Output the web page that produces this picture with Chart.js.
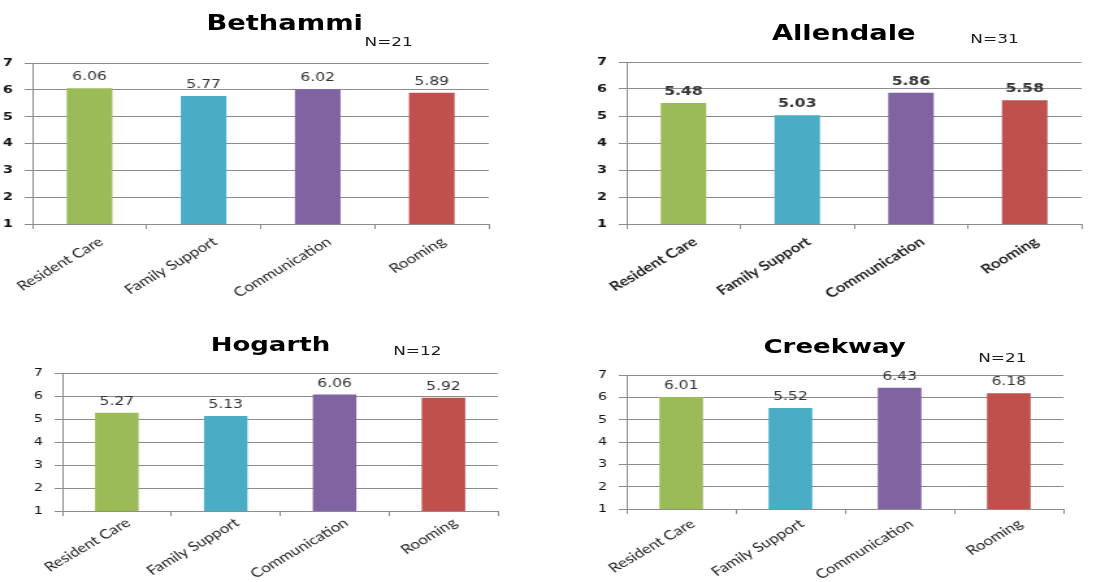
<!DOCTYPE html>
<html>
<head>
<meta charset="utf-8">
<script src="https://cdn.jsdelivr.net/npm/chart.js@4/dist/chart.umd.min.js"></script>
<style>
  html, body { margin: 0; padding: 0; background: #fff; overflow: hidden; }
  #page { position: relative; width: 848px; height: 582px; transform: scaleX(1.3); transform-origin: 0 0; }
  canvas { position: absolute; }
  .title { position: absolute; font: bold 21px "DejaVu Sans", sans-serif; line-height: 21px; white-space: nowrap; transform: translateX(-50%); color: #000; }
  .count { position: absolute; font: 13px "DejaVu Sans", sans-serif; line-height: 13px; white-space: nowrap; transform: translateX(-50%); color: #1a1a1a; }
  #c1 { left: 0px;   top: 43px;  }
  #c2 { left: 457px; top: 42px;  }
  #c3 { left: 23px;  top: 353px; }
  #c4 { left: 457px; top: 355px; }
  #t1 { left: 219px; top: 13px; }
  #t2 { left: 649px; top: 23px; }
  #t3 { left: 208px; top: 334px; font-size: 20px; }
  #t4 { left: 642px; top: 336px; font-size: 20px; }
  #n1 { left: 299px; top: 35px; }
  #n2 { left: 765px; top: 32px; }
  #n3 { left: 321px; top: 344px; }
  #n4 { left: 771px; top: 351px; }
</style>
</head>
<body>
<div id="page">
  <div class="title" id="t1"></div><div class="count" id="n1"></div>
  <div class="title" id="t2"></div><div class="count" id="n2"></div>
  <div class="title" id="t3"></div><div class="count" id="n3"></div>
  <div class="title" id="t4"></div><div class="count" id="n4"></div>
  <canvas id="c1" width="386" height="261"></canvas>
  <canvas id="c2" width="385" height="262"></canvas>
  <canvas id="c3" width="370" height="238"></canvas>
  <canvas id="c4" width="371" height="234"></canvas>
</div>
<script>
// Satisfaction domains and mean scores per home
const categories = ['Resident Care', 'Family Support', 'Communication', 'Rooming'];
const siteNames = ['Bethammi', 'Allendale', 'Hogarth', 'Creekway'];
const siteCounts = [21, 31, 12, 21];
const bethammiScores = [6.06, 5.77, 6.02, 5.89];
const allendaleScores = [5.48, 5.03, 5.86, 5.58];
const hogarthScores = [5.27, 5.13, 6.06, 5.92];
const creekwayScores = [6.01, 5.52, 6.43, 6.18];
const yMin = 1, yMax = 7, yStep = 1;
const barColors = ['#9bbb59', '#4bacc6', '#8064a2', '#c0504d'];

// Score printed above each bar
const valueLabels = {
  id: 'valueLabels',
  afterDatasetsDraw(chart, args, opts) {
    const ctx = chart.ctx;
    const meta = chart.getDatasetMeta(0);
    const data = chart.data.datasets[0].data;
    ctx.save();
    ctx.font = opts.font;
    ctx.fillStyle = opts.color;
    ctx.textAlign = 'center';
    ctx.textBaseline = 'alphabetic';
    meta.data.forEach((bar, i) => {
      ctx.fillText(data[i].toFixed(2), bar.x, bar.y - opts.gap);
    });
    ctx.restore();
  }
};

// Slanted category names, top-right corner hung under each category
const slantedLabels = {
  id: 'slantedLabels',
  afterDraw(chart, args, opts) {
    const ctx = chart.ctx;
    const xs = chart.scales.x;
    const bottom = chart.chartArea.bottom;
    ctx.save();
    ctx.font = opts.font;
    ctx.fillStyle = opts.color;
    ctx.textAlign = 'right';
    ctx.textBaseline = 'top';
    chart.data.labels.forEach((label, i) => {
      const x = xs.getPixelForValue(i);
      ctx.save();
      ctx.translate(x + opts.dx, bottom + opts.dy);
      ctx.rotate(-opts.angle * Math.PI / 180);
      ctx.fillText(label, 0, 0);
      ctx.restore();
    });
    ctx.restore();
  }
};

function drawSite(canvasId, scores, bold, labelDrop) {
  const weight = bold ? 'bold' : 'normal';
  const gridColor = '#8c8c8c';
  return new Chart(document.getElementById(canvasId), {
    type: 'bar',
    data: {
      labels: categories,
      datasets: [{
        data: scores,
        backgroundColor: barColors,
        borderWidth: 0,
        barPercentage: 0.4,
        categoryPercentage: 1.0
      }]
    },
    options: {
      responsive: false,
      animation: false,
      events: [],
      layout: { padding: { top: 20, right: 10, left: 0, bottom: 0 } },
      plugins: {
        legend: { display: false },
        tooltip: { enabled: false },
        title: { display: false },
        valueLabels: {
          font: weight + ' 12px "DejaVu Sans", sans-serif',
          color: '#333333',
          gap: 8
        },
        slantedLabels: {
          font: weight + ' 13px Lato, sans-serif',
          color: '#222222',
          angle: 37,
          dx: 5,
          dy: labelDrop
        }
      },
      scales: {
        x: {
          grid: { display: true, drawOnChartArea: false, drawTicks: true, tickLength: 5, color: gridColor, offset: true },
          border: { display: true, color: gridColor, width: 1 },
          ticks: { display: false },
          afterFit(scale) { scale.height = 80; scale.paddingLeft = 0; scale.paddingRight = 0; }
        },
        y: {
          min: yMin, max: yMax,
          grid: { color: gridColor, tickLength: 6, lineWidth: 1 },
          border: { display: true, color: gridColor, width: 1 },
          ticks: {
            stepSize: yStep, padding: 9, color: '#111111',
            font: { family: 'DejaVu Sans', size: 11, weight: (bold || canvasId === 'c1') ? 'bold' : 'normal' }
          },
          afterFit(scale) { scale.width = 25; scale.paddingTop = 0; scale.paddingBottom = 0; }
        }
      }
    },
    plugins: [valueLabels, slantedLabels]
  });
}

['t1', 't2', 't3', 't4'].forEach((id, i) => { document.getElementById(id).textContent = siteNames[i]; });
['n1', 'n2', 'n3', 'n4'].forEach((id, i) => { document.getElementById(id).textContent = 'N=' + siteCounts[i]; });

drawSite('c1', bethammiScores, false, 11);
drawSite('c2', allendaleScores, true, 11);
drawSite('c3', hogarthScores, false, 5);
drawSite('c4', creekwayScores, false, 8);
</script>
</body>
</html>
